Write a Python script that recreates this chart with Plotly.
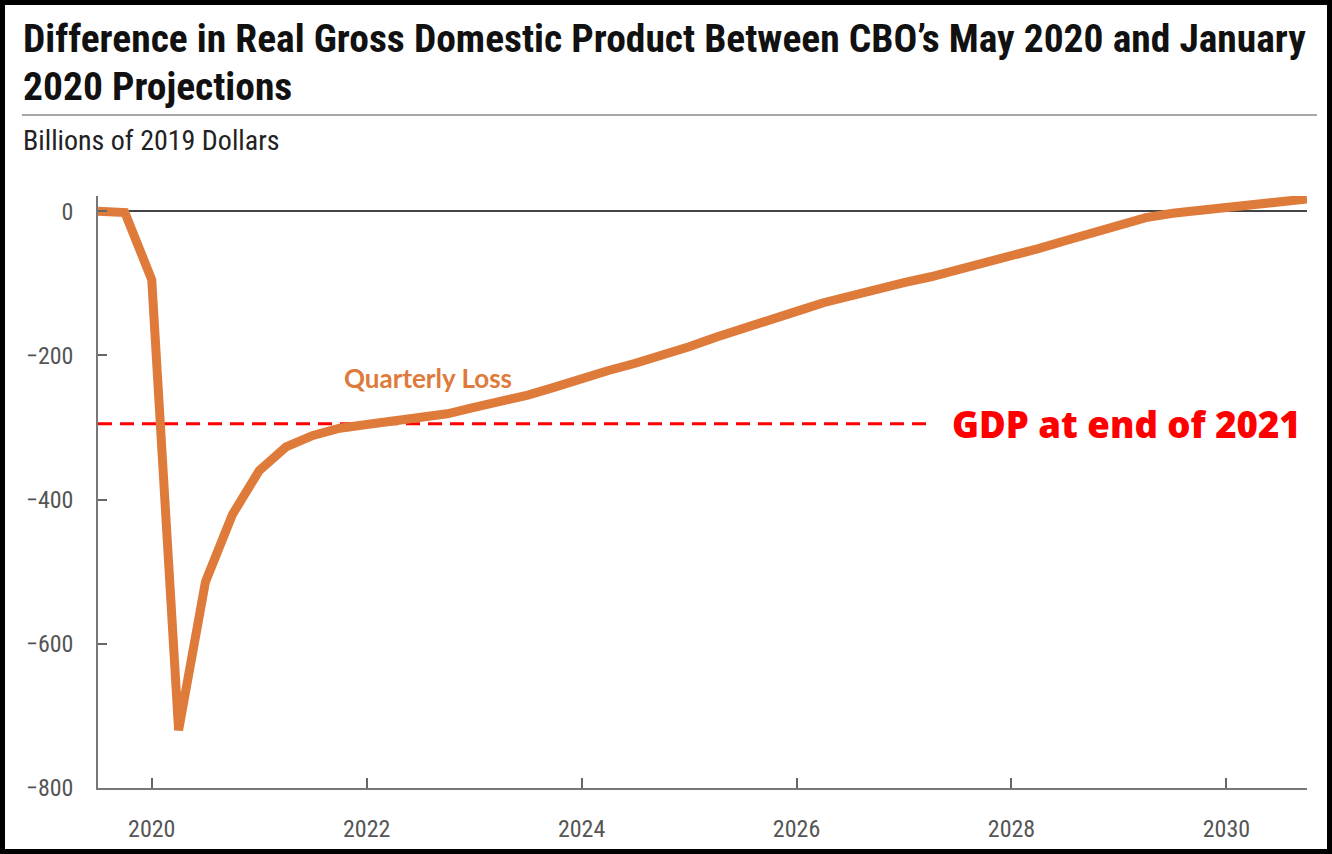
import plotly.graph_objects as go

# ---- data (quarterly, billions of 2019 dollars) ----
quarters = [2019.5 + 0.25 * k for k in range(46)]
quarterly_loss = [
    0, -2, -95, -720, -514, -421, -360, -327, -311, -301,
    -296, -292, -287, -281, -272, -264, -255, -244, -231, -221,
    -211, -201, -188, -175, -162, -150, -139, -127, -117, -108,
    -99, -91, -82, -73, -63, -52, -41, -30, -18, -9,
    -3, 1, 5, 9, 13, 17,
]
ref_x = [2019.5, 2027.25]
ref_y = [-295, -295]
ref_label = "GDP at end of 2021"
series_label = "Quarterly Loss"
title_lines = [
    "Difference in Real Gross Domestic Product Between CBO\u2019s May 2020 and January",
    "2020 Projections",
]
subtitle = "Billions of 2019 Dollars"
x_ticks = [2020, 2022, 2024, 2026, 2028, 2030]
y_ticks = [0, -200, -400, -600, -800]
y_tick_text = ["0", "\u2212200", "\u2212400", "\u2212600", "\u2212800"]

W, H = 1332, 854
ML, MR, MT, MB = 98, 25, 196, 66
PW, PH = W - ML - MR, H - MT - MB


def px(xp):
    return (xp - ML) / PW


def py(yp):
    return (H - MB - yp) / PH


NARROW = "Liberation Sans Narrow, Roboto Condensed, Arial Narrow, DejaVu Sans Condensed, sans-serif"
ORANGE = "#DE7A3A"
GRAY = "#555555"

fig = go.Figure()
fig.add_trace(go.Scatter(
    x=ref_x, y=ref_y, mode="lines",
    line=dict(color="#FF0000", width=3, dash="14px,8px"),
    hoverinfo="skip", showlegend=False,
))
fig.add_trace(go.Scatter(
    x=quarters, y=quarterly_loss, mode="lines",
    line=dict(color=ORANGE, width=9),
    name=series_label, showlegend=False,
))

fig.update_layout(
    width=W, height=H,
    margin=dict(l=ML, r=MR, t=MT, b=MB),
    paper_bgcolor="white", plot_bgcolor="white",
    xaxis=dict(
        range=[2019.5, 2030.75], tickvals=x_ticks, ticktext=[str(v) for v in x_ticks],
        ticks="inside", ticklen=10, tickcolor="#666666", tickwidth=1.5,
        showline=True, linecolor="#777777", linewidth=1.5,
        showgrid=False, zeroline=False,
        tickfont=dict(family=NARROW, size=24, color=GRAY),
        ticklabelstandoff=18,
    ),
    yaxis=dict(
        range=[-800, 21], tickvals=y_ticks, ticktext=y_tick_text,
        ticks="inside", ticklen=9, tickcolor="#666666", tickwidth=1.5,
        showline=True, linecolor="#777777", linewidth=1.5,
        showgrid=False, zeroline=True, zerolinecolor="#444444", zerolinewidth=1.5,
        tickfont=dict(family=NARROW, size=24, color=GRAY),
        ticklabelstandoff=18,
    ),
    annotations=[
        dict(text="<b>" + title_lines[0] + "</b>", xref="paper", yref="paper",
             x=px(21), y=py(38), xanchor="left", yanchor="middle", showarrow=False,
             font=dict(family=NARROW, size=39.5, color="#111111")),
        dict(text="<b>" + title_lines[1] + "</b>", xref="paper", yref="paper",
             x=px(21), y=py(87), xanchor="left", yanchor="middle", showarrow=False,
             font=dict(family=NARROW, size=39.5, color="#111111")),
        dict(text=subtitle, xref="paper", yref="paper",
             x=px(21), y=py(141), xanchor="left", yanchor="middle", showarrow=False,
             font=dict(family=NARROW, size=28, color="#222222")),
        dict(text="<b>" + series_label + "</b>", x=2022.57, y=-231,
             xanchor="center", yanchor="middle", showarrow=False,
             font=dict(family="Lato, Open Sans, sans-serif", size=26, color=ORANGE)),
        dict(text=ref_label, x=2027.43, y=-295,
             xanchor="left", yanchor="middle", showarrow=False,
             font=dict(family="Open Sans, DejaVu Sans, sans-serif", size=36.5,
                       weight=800, color="#FF0000")),
    ],
    shapes=[
        dict(type="line", xref="paper", yref="paper",
             x0=px(22), x1=px(1317), y0=py(115), y1=py(115),
             line=dict(color="#888888", width=1.5)),
        dict(type="rect", xref="paper", yref="paper",
             x0=px(2.5), x1=px(W - 2.5), y0=py(H - 2.5), y1=py(2.5),
             line=dict(color="black", width=5), fillcolor="rgba(0,0,0,0)", layer="above"),
    ],
)

fig.write_html("out.html", config={"displayModeBar": False},
               post_script="document.body.style.margin='0';")
